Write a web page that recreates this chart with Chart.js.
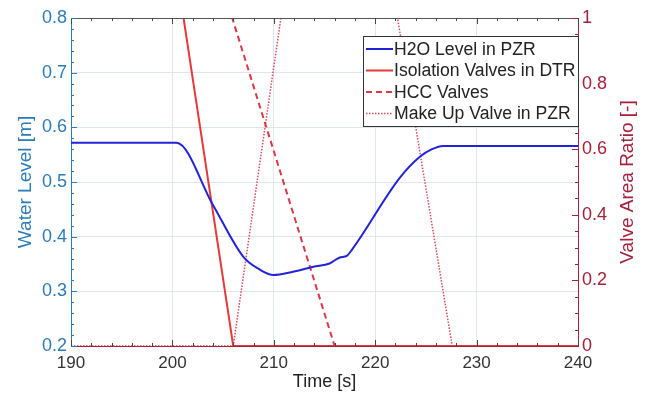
<!DOCTYPE html>
<html>
<head>
<meta charset="utf-8">
<script src="https://cdn.jsdelivr.net/npm/chart.js@4"></script>
<style>
  html, body { margin: 0; padding: 0; background: #fff; }
  #wrap { width: 648px; height: 405px; }
</style>
</head>
<body>
<div id="wrap"><canvas id="chart"></canvas></div>
<script>
// water level in the pressurizer (left axis)
const levelTime = [190, 200.4, 204.0, 207.0, 208.6, 209.95, 211.9, 213.9, 215.5, 216.5, 217.2, 217.7, 222.4, 224.4, 225.6, 226.7, 240];
const levelValue = [0.572, 0.572, 0.458, 0.363, 0.340, 0.330, 0.336, 0.345, 0.351, 0.362, 0.365, 0.376, 0.507, 0.546, 0.560, 0.566, 0.566];

// valve area ratios (right axis)
const isoTime = [190, 201.1, 206.0, 240];
const isoValue = [1, 1, 0, 0];
const hccTime = [190, 205.9, 216.0, 240];
const hccValue = [1, 1, 0, 0];
const makeupTime = [190, 206.0, 210.7, 222.2, 227.6, 240];
const makeupValue = [0, 0, 1, 1, 0, 0];

const xTicks = [190, 200, 210, 220, 230, 240];
const leftTicks = [0.2, 0.3, 0.4, 0.5, 0.6, 0.7, 0.8];
const rightTicks = [0, 0.2, 0.4, 0.6, 0.8, 1];

const seriesNames = ["H2O Level in PZR", "Isolation Valves in DTR", "HCC Valves", "Make Up Valve in PZR"];
const rightTitle = "Valve Area Ratio [-]";

const blueAxis = "#2b7bb9";
const redAxis = "#a3213b";
const fontFamily = "'Liberation Sans', Arial, sans-serif";

function toPoints(xs, ys) {
    return xs.map((x, i) => ({ x: x, y: ys[i] }));
}

// inward minor/major ticks, top box line, right title and the legend box
const boxPlugin = {
    id: "boxPlugin",
    afterDraw(chart) {
        const ctx = chart.ctx;
        const a = chart.chartArea;
        const sx = chart.scales.x, sy = chart.scales.y, sy1 = chart.scales.y1;
        ctx.save();
        ctx.lineWidth = 1;
        // top border
        ctx.strokeStyle = "#555";
        ctx.beginPath();
        ctx.moveTo(a.left, a.top + 0.5);
        ctx.lineTo(a.right, a.top + 0.5);
        ctx.stroke();
        // x ticks (bottom + top)
        for (let t = 190; t <= 240; t += 2) {
            const px = Math.round(sx.getPixelForValue(t)) + 0.5;
            const len = (t % 10 === 0) ? 6 : 3;
            ctx.strokeStyle = "#444";
            ctx.beginPath();
            ctx.moveTo(px, a.bottom); ctx.lineTo(px, a.bottom - len);
            ctx.moveTo(px, a.top); ctx.lineTo(px, a.top + len);
            ctx.stroke();
        }
        // left ticks
        ctx.strokeStyle = blueAxis;
        for (let i = 0; i <= 30; i++) {
            const v = 0.2 + i * 0.02;
            const py = Math.round(sy.getPixelForValue(v)) + 0.5;
            const len = (i % 5 === 0) ? 6 : 3;
            ctx.beginPath();
            ctx.moveTo(a.left, py); ctx.lineTo(a.left + len, py);
            ctx.stroke();
        }
        // right ticks
        ctx.strokeStyle = redAxis;
        for (let i = 0; i <= 20; i++) {
            const v = i * 0.05;
            const py = Math.round(sy1.getPixelForValue(v)) + 0.5;
            const len = (i % 4 === 0) ? 6 : 3;
            ctx.beginPath();
            ctx.moveTo(a.right, py); ctx.lineTo(a.right - len, py);
            ctx.stroke();
        }
        // right axis title, reading bottom to top
        ctx.save();
        ctx.translate(628, (a.top + a.bottom) / 2);
        ctx.rotate(-Math.PI / 2);
        ctx.fillStyle = redAxis;
        ctx.font = "19px " + fontFamily;
        ctx.textAlign = "center";
        ctx.textBaseline = "middle";
        ctx.fillText(rightTitle, 0, 0);
        ctx.restore();
        // legend
        const lx = 363, ly = 36, lw = 215, lh = 90;
        ctx.fillStyle = "#fff";
        ctx.fillRect(lx, ly, lw, lh);
        ctx.strokeStyle = "#333";
        ctx.lineWidth = 1;
        ctx.strokeRect(lx + 0.5, ly + 0.5, lw, lh);
        ctx.font = "17.6px " + fontFamily;
        ctx.textBaseline = "middle";
        chart.data.datasets.forEach((ds, i) => {
            const cy = ly + 13 + i * 21.5;
            ctx.strokeStyle = ds.borderColor;
            ctx.lineWidth = ds.borderWidth;
            ctx.setLineDash(ds.borderDash || []);
            ctx.beginPath();
            ctx.moveTo(lx + 3, cy);
            ctx.lineTo(lx + 30, cy);
            ctx.stroke();
            ctx.setLineDash([]);
            ctx.fillStyle = "#222";
            ctx.fillText(ds.label, lx + 31, cy + 1);
        });
        ctx.restore();
    }
};

new Chart(document.getElementById("chart"), {
    type: "line",
    data: {
        datasets: [
            {
                label: seriesNames[0],
                data: toPoints(levelTime, levelValue),
                yAxisID: "y",
                borderColor: "#2222d6",
                borderWidth: 2,
                cubicInterpolationMode: "monotone",
                pointRadius: 0,
            },
            {
                label: seriesNames[1],
                data: toPoints(isoTime, isoValue),
                yAxisID: "y1",
                borderColor: "#e43a3a",
                borderWidth: 2,
                pointRadius: 0,
            },
            {
                label: seriesNames[2],
                data: toPoints(hccTime, hccValue),
                yAxisID: "y1",
                borderColor: "#d83a46",
                borderWidth: 2,
                borderDash: [6, 4],
                pointRadius: 0,
            },
            {
                label: seriesNames[3],
                data: toPoints(makeupTime, makeupValue),
                yAxisID: "y1",
                borderColor: "#d84a5a",
                borderWidth: 1.5,
                borderDash: [1.5, 1.5],
                pointRadius: 0,
            },
        ],
    },
    options: {
        responsive: true,
        maintainAspectRatio: false,
        animation: false,
        layout: { padding: { top: 18, left: 14, right: 0, bottom: 12 } },
        plugins: {
            legend: { display: false },
            tooltip: { enabled: false },
        },
        scales: {
            x: {
                type: "linear",
                min: 190,
                max: 240,
                afterBuildTicks: (s) => { s.ticks = xTicks.map(v => ({ value: v })); },
                afterFit: (s) => { s.height = 47; },
                ticks: { color: "#333", font: { family: fontFamily, size: 17 }, padding: 7 },
                grid: { color: "#dfe6ee", drawTicks: false },
                border: { color: redAxis, width: 1 },
                title: { display: true, text: "Time [s]", color: "#222", font: { family: fontFamily, size: 18 }, padding: { top: 0, bottom: 0 } },
            },
            y: {
                position: "left",
                min: 0.2,
                max: 0.8,
                afterBuildTicks: (s) => { s.ticks = leftTicks.map(v => ({ value: v })); },
                afterFit: (s) => { s.width = 57; },
                ticks: { color: blueAxis, font: { family: fontFamily, size: 18 }, padding: 4 },
                grid: { color: "#dfe6ee", drawTicks: false },
                border: { color: blueAxis, width: 1 },
                title: { display: true, text: "Water Level [m]", color: blueAxis, font: { family: fontFamily, size: 19 }, padding: { top: 0, bottom: 0 } },
            },
            y1: {
                position: "right",
                min: 0,
                max: 1,
                afterBuildTicks: (s) => { s.ticks = rightTicks.map(v => ({ value: v })); },
                afterFit: (s) => { s.width = 70; },
                ticks: {
                    color: redAxis,
                    font: { family: fontFamily, size: 18 },
                    padding: 4,
                    callback: (v) => String(Math.round(v * 10) / 10),
                },
                grid: { display: false, drawTicks: false },
                border: { color: redAxis, width: 1 },
            },
        },
    },
    plugins: [boxPlugin],
});
</script>
</body>
</html>
